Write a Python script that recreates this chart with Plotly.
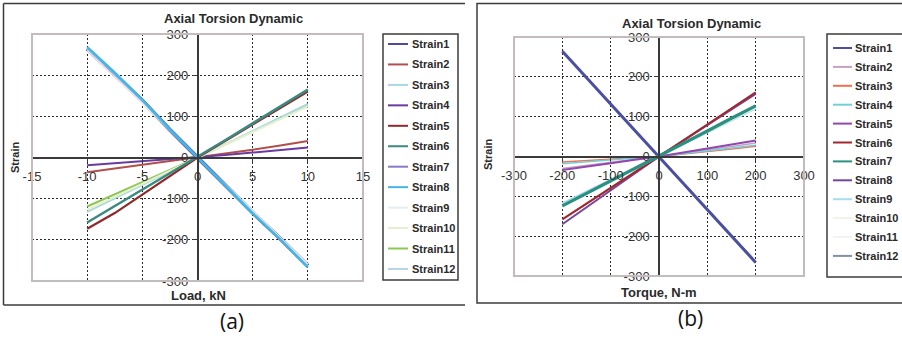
import plotly.graph_objects as go

# ---------------- data ----------------
series_names = [f"Strain{i}" for i in range(1, 13)]

load_kn = [-10, -7.5, -5, -2.5, 0, 2.5, 5, 7.5, 10]
axial_strain = [
    [264, 200, 138, 67, 0, -66, -134, -197, -263],    # Strain1
    [-36, -27, -18, -9, 0, 10, 19, 29, 40],           # Strain2
    [-132, -99, -66, -33, 0, 33, 66, 98, 130],        # Strain3
    [-19, -14, -9, -4, 0, 6, 12, 18, 24],             # Strain4
    [-173, -135, -90, -44, 0, 40, 80, 121, 160],      # Strain5
    [-158, -118, -80, -40, 0, 42, 83, 123, 165],      # Strain6
    [262, 198, 134, 66, 0, -65, -132, -195, -261],    # Strain7
    [268, 206, 140, 68, 0, -67, -136, -199, -267],    # Strain8
    [260, 196, 132, 65, 0, -65, -130, -194, -259],    # Strain9
    [-127, -95, -63, -31, 0, 31, 62, 93, 124],        # Strain10
    [-119, -90, -60, -30, 0, 32, 64, 96, 126],        # Strain11
    [265, 203, 137, 67, 0, -66, -133, -198, -265],    # Strain12
]

torque_nm = [-200, -150, -100, -50, 0, 50, 100, 150, 200]
torsion_strain = [
    [264, 198, 132, 66, 0, -66, -133, -200, -266],    # Strain1
    [-30, -22, -15, -7, 0, 8, 16, 25, 34],            # Strain2
    [-14, -10, -7, -3, 0, 6, 12, 19, 26],             # Strain3
    [-18, -13, -9, -4, 0, 7, 14, 21, 28],             # Strain4
    [-34, -26, -17, -8, 0, 10, 20, 30, 40],           # Strain5
    [-158, -119, -80, -40, 0, 40, 80, 121, 161],      # Strain6
    [-124, -93, -62, -31, 0, 32, 64, 96, 127],        # Strain7
    [-170, -127, -84, -42, 0, 40, 79, 118, 157],      # Strain8
    [-118, -88, -59, -29, 0, 30, 60, 90, 120],        # Strain9
    [-122, -91, -61, -30, 0, 31, 61, 92, 122],        # Strain10
    [-126, -94, -63, -31, 0, 31, 63, 94, 125],        # Strain11
    [262, 196, 131, 65, 0, -65, -131, -197, -262],    # Strain12
]

x_ticks_a = [-15, -10, -5, 0, 5, 10, 15]
x_labels_a = ["-15", "-10", "-5", "0", "5", "10", "15"]
x_ticks_b = [-300, -200, -100, 0, 100, 200, 300]
x_labels_b = ["-300", "-200", "-100", "0", "100", "200", "300"]
y_ticks = [-300, -200, -100, 0, 100, 200, 300]
y_labels = ["-300", "-200", "-100", "0", "100", "200", "300"]

# ---------------- styles ----------------
colors_a = ["#4f4a9c", "#b0504a", "#a8d8e0", "#6a3aa0", "#8e2a2a", "#3a8a80",
            "#8a7ac8", "#45b5e5", "#e6ecef", "#e6efcf", "#8cc850", "#b8d4e4"]
widths_a = [4, 2, 2, 2, 2.2, 2.5, 2, 2.6, 1.5, 2, 2, 1.5]
draw_order_a = [10, 0, 6, 8, 11, 1, 3, 2, 9, 4, 5, 7]
colors_b = ["#4a4fa0", "#c8a0c0", "#f07050", "#70d0d8", "#9048b0", "#a02830",
            "#2a9080", "#7048a0", "#a8dcf0", "#f3f1ea", "#f1f3f5", "#8090a8"]
widths_b = [3, 1.5, 1.5, 1.5, 2, 2.2, 3.2, 2, 2, 1.5, 1.5, 1]
draw_order_b = [11, 0, 1, 2, 3, 4, 7, 5, 8, 9, 10, 6]

W, H = 902, 338
FONT = "Liberation Sans, Arial, sans-serif"
TXT = "#2a2a2a"


def px(x):
    return x / W


def py(y):
    return 1 - y / H


fig = go.Figure()

for i in draw_order_a:
    fig.add_trace(go.Scatter(x=load_kn, y=axial_strain[i], mode="lines",
                             name=series_names[i],
                             line=dict(color=colors_a[i], width=widths_a[i]),
                             xaxis="x", yaxis="y", showlegend=False))
for i in draw_order_b:
    fig.add_trace(go.Scatter(x=torque_nm, y=torsion_strain[i], mode="lines",
                             name=series_names[i],
                             line=dict(color=colors_b[i], width=widths_b[i]),
                             xaxis="x2", yaxis="y2", showlegend=False))

# plot-area placement (paper fractions)
xa_dom = [px(32), px(363)]
ya_dom = [py(281), py(34)]
xb_dom = [px(514), px(804)]
yb_dom = [py(276), py(37)]


def axis_common():
    return dict(showline=True, linecolor="#3a3a3a", linewidth=1.5,
                showgrid=True, gridcolor="#2a2a2a", gridwidth=1, griddash="2px,2px",
                ticks="outside", ticklen=4, tickcolor="#3a3a3a", zeroline=False,
                tickmode="array",
                tickfont=dict(family=FONT, size=13, color="#333333"), fixedrange=True)


fig.update_layout(
    width=W, height=H, margin=dict(l=0, r=0, t=0, b=0, autoexpand=False),
    paper_bgcolor="white", plot_bgcolor="white", showlegend=False,
    xaxis=dict(domain=xa_dom, range=[-15, 15], tickvals=x_ticks_a, ticktext=x_labels_a,
               anchor="free", position=(ya_dom[0] + ya_dom[1]) / 2,
               ticklabelstandoff=3, **axis_common()),
    yaxis=dict(domain=ya_dom, range=[-300, 300], tickvals=y_ticks, ticktext=y_labels,
               anchor="free", position=(xa_dom[0] + xa_dom[1]) / 2,
               ticklabelstandoff=2, **axis_common()),
    xaxis2=dict(domain=xb_dom, range=[-300, 300], tickvals=x_ticks_b, ticktext=x_labels_b,
                anchor="free", position=(yb_dom[0] + yb_dom[1]) / 2,
                ticklabelstandoff=3, **axis_common()),
    yaxis2=dict(domain=yb_dom, range=[-300, 300], tickvals=y_ticks, ticktext=y_labels,
                anchor="free", position=(xb_dom[0] + xb_dom[1]) / 2,
                ticklabelstandoff=2, **axis_common()),
)

shapes = []
# plot-area borders
for xr, yr in (("x domain", "y domain"), ("x2 domain", "y2 domain")):
    shapes.append(dict(type="rect", xref=xr, yref=yr, x0=0, x1=1, y0=0, y1=1,
                       line=dict(color="#c4bcbc", width=2), layer="above"))
# outer chart frames
frame = dict(color="#3c3c3c", width=1.5)
shapes.append(dict(type="line", xref="paper", yref="paper",
                   x0=px(3.5), x1=px(3.5), y0=py(3.5), y1=py(305), line=frame))
shapes.append(dict(type="line", xref="paper", yref="paper",
                   x0=px(3.5), x1=px(465), y0=py(3.5), y1=py(3.5), line=frame))
shapes.append(dict(type="line", xref="paper", yref="paper",
                   x0=px(3.5), x1=px(465), y0=py(305), y1=py(305), line=frame))
shapes.append(dict(type="rect", xref="paper", yref="paper",
                   x0=px(477), x1=px(906), y0=py(3.5), y1=py(303), line=frame))

annotations = []


def legend_box(x0, x1, y0, y1, first_y, step, sample_x0, sample_x1, text_x, colors):
    shapes.append(dict(type="rect", xref="paper", yref="paper",
                       x0=px(x0), x1=px(x1), y0=py(y0), y1=py(y1),
                       line=dict(color="#3c3c3c", width=1.5), fillcolor="white",
                       layer="below"))
    for i, (name, col) in enumerate(zip(series_names, colors)):
        yy = first_y + i * step
        shapes.append(dict(type="line", xref="paper", yref="paper",
                           x0=px(sample_x0), x1=px(sample_x1), y0=py(yy), y1=py(yy),
                           line=dict(color=col, width=2)))
        annotations.append(dict(text=name, xref="paper", yref="paper",
                                x=px(text_x), y=py(yy), xanchor="left", yanchor="middle",
                                showarrow=False,
                                font=dict(family=FONT, size=11, color=TXT, weight="bold")))


legend_box(383, 458, 34, 280, 44, 20.45, 388, 408, 410, colors_a)
legend_box(827, 905, 34, 277, 48, 18.9, 833, 852, 853, colors_b)


def text(t, x, y, size, bold=True, angle=0, family=FONT, color=TXT):
    annotations.append(dict(text=t, xref="paper", yref="paper", x=px(x), y=py(y),
                            xanchor="center", yanchor="middle", showarrow=False,
                            textangle=angle,
                            font=dict(family=family, size=size, color=color,
                                      weight="bold" if bold else "normal")))


text("Axial Torsion Dynamic", 234, 19, 13)
text("Axial Torsion Dynamic", 691, 23, 13)
text("Load, kN", 198, 295, 13)
text("Torque, N-m", 659, 292, 13)
text("Strain", 15, 157, 11, angle=-90)
text("Strain", 488, 155, 11, angle=-90)
text("(a)", 232, 321, 21, bold=False, family="Open Sans, sans-serif", color="#111")
text("(b)", 690, 318, 21, bold=False, family="Open Sans, sans-serif", color="#111")

fig.update_layout(shapes=shapes, annotations=annotations)

fig.write_html("out.html")
